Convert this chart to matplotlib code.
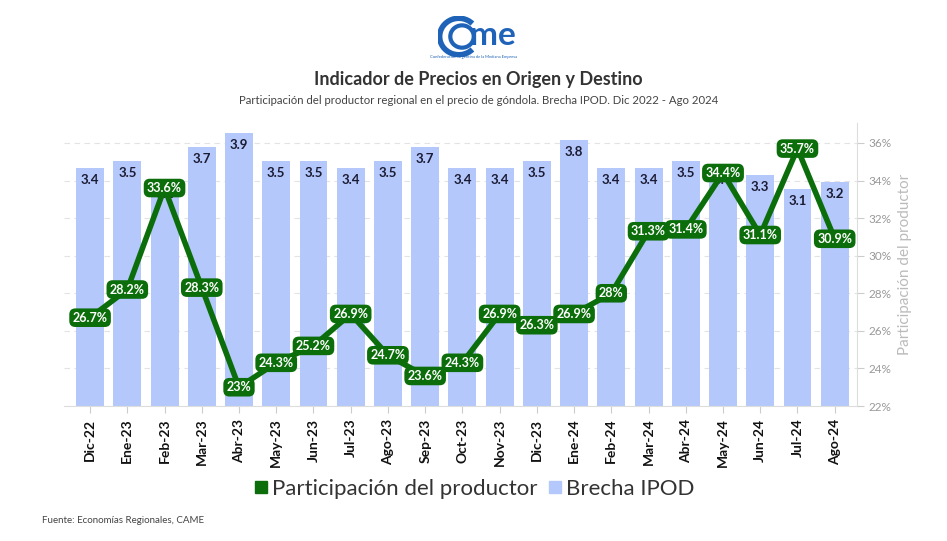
import matplotlib.pyplot as plt
from matplotlib.lines import Line2D
from matplotlib.patches import Arc
from matplotlib.transforms import blended_transform_factory

plt.rcParams['font.family'] = ['Lato', 'DejaVu Sans']

meses = ['Dic-22', 'Ene-23', 'Feb-23', 'Mar-23', 'Abr-23', 'May-23', 'Jun-23',
         'Jul-23', 'Ago-23', 'Sep-23', 'Oct-23', 'Nov-23', 'Dic-23', 'Ene-24',
         'Feb-24', 'Mar-24', 'Abr-24', 'May-24', 'Jun-24', 'Jul-24', 'Ago-24']
brecha = [3.4, 3.5, 3.2, 3.7, 3.9, 3.5, 3.5, 3.4, 3.5, 3.7, 3.4, 3.4, 3.5, 3.8,
          3.4, 3.4, 3.5, 3.4, 3.3, 3.1, 3.2]
participacion = [26.7, 28.2, 33.6, 28.3, 23, 24.3, 25.2, 26.9, 24.7, 23.6, 24.3,
                 26.9, 26.3, 26.9, 28, 31.3, 31.4, 34.4, 31.1, 35.7, 30.9]
ticks_der = [22, 24, 26, 28, 30, 32, 34, 36]

verde = '#0b6e0b'
azul = '#b4c8fb'

fig = plt.figure(figsize=(9.47, 5.41), dpi=100)
ax = fig.add_axes([0.0676, 0.2495, 0.8374, 0.5231])
ax2 = ax.twinx()

x = list(range(len(meses)))
ax.bar(x, brecha, width=0.75, color=azul, zorder=1)
for xi, v in zip(x, brecha):
    ax.annotate(f'{v}', (xi, v), xytext=(0, -8.5), textcoords='offset points',
                ha='center', va='center', fontsize=9.5, fontweight='bold',
                color='#1b1b33', zorder=2)
ax.set_ylim(0, 4.04)
ax.set_xlim(-0.7, 20.6)
ax.set_yticks([])
ax.set_xticks(x)
ax.set_xticklabels(meses, rotation=90, fontsize=10, fontweight='bold', color='#111111')
ax.tick_params(axis='x', length=5, color='#cccccc', pad=4)
for s in ['left', 'top', 'right']:
    ax.spines[s].set_visible(False)
ax.spines['bottom'].set_color('#dddddd')

ax2.set_ylim(22, 37.06)
ax2.set_yticks(ticks_der)
ax2.set_yticklabels([f'{t}%' for t in ticks_der], fontsize=8.5, color='#999999')
ax2.tick_params(axis='y', length=5, color='#cccccc', pad=3)
# gridlines of the right axis, drawn beneath the bars
trans = blended_transform_factory(ax.transAxes, ax2.transData)
ax.hlines(ticks_der, 0, 1, transform=trans, color='#e3e3e3', lw=0.8,
          linestyles=(0, (5, 4)), zorder=0)
for s in ['left', 'top', 'bottom']:
    ax2.spines[s].set_visible(False)
ax2.spines['right'].set_color('#dddddd')
ax2.set_ylabel('Participación del productor', fontsize=11, color='#bbbbbb', labelpad=5)

ax.set_zorder(1)
ax2.set_zorder(2)
ax2.patch.set_visible(False)

ax2.plot(x, participacion, color=verde, lw=4, zorder=3, solid_joinstyle='miter')
for xi, v in zip(x, participacion):
    lbl = f'{v:g}%'
    ax2.text(xi, v, lbl, ha='center', va='center', fontsize=9, fontweight='bold',
             color='white', zorder=4,
             bbox=dict(boxstyle='round,pad=0.18,rounding_size=0.4', fc=verde, ec=verde, lw=1.5))

# logo
fig.text(0.52, 0.935, 'me', fontsize=24, fontweight='bold', color='#1f63b8',
         ha='center', va='center')
logo_ax = fig.add_axes([0.462, 0.895, 0.045, 0.075])
logo_ax.axis('off')
logo_ax.set_xlim(-1, 1)
logo_ax.set_ylim(-1, 1)
logo_ax.add_patch(Arc((0, 0), 1.8, 1.8, theta1=45, theta2=315, lw=4, color='#1f63b8'))
logo_ax.add_patch(Arc((0.15, 0), 1.1, 1.1, theta1=0, theta2=360, lw=3, color='#1f63b8'))
fig.text(0.5, 0.895, 'Confederación Argentina de la Mediana Empresa', fontsize=3,
         color='#1f63b8', ha='center', va='center')

fig.text(0.505, 0.853, 'Indicador de Precios en Origen y Destino', fontsize=13,
         fontweight='bold', color='#333333', ha='center', va='center')
fig.text(0.505, 0.814, 'Participación del productor regional en el precio de góndola. '
         'Brecha IPOD. Dic 2022 - Ago 2024', fontsize=8.2, color='#444444',
         ha='center', va='center')

handles = [Line2D([], [], marker='s', ls='', color=verde, markersize=8),
           Line2D([], [], marker='s', ls='', color=azul, markersize=8)]
fig.legend(handles, ['Participación del productor', 'Brecha IPOD'],
           loc='center', bbox_to_anchor=(0.5, 0.096), ncol=2, frameon=False,
           fontsize=16, labelcolor='#333333', handletextpad=0.1, columnspacing=0.4,
           handlelength=0.8)

fig.text(0.044, 0.037, 'Fuente: Economías Regionales, CAME', fontsize=7,
         color='#444444', ha='left', va='center')

fig.savefig('out.png', dpi=100, facecolor='white')
